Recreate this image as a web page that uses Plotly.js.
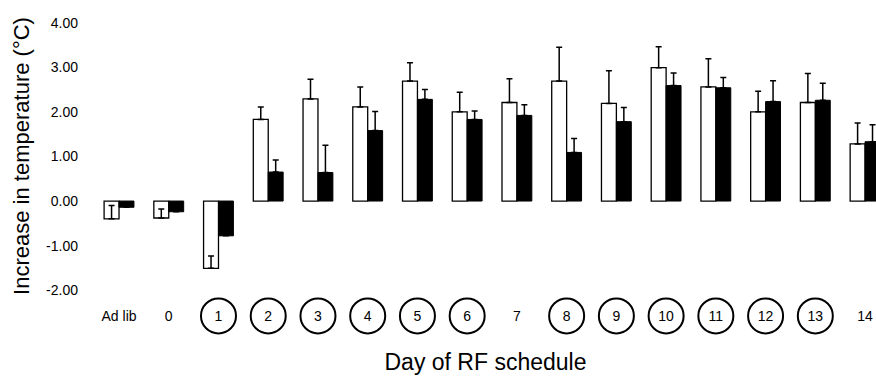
<!DOCTYPE html>
<html>
<head>
<meta charset="utf-8">
<script src="https://cdn.plot.ly/plotly-3.0.1.min.js"></script>
<style>html,body{margin:0;padding:0;background:#fff;}#chart{width:876px;height:382px;}</style>
</head>
<body>
<div id="chart"></div>
<script>
var categories = ["Ad lib","0","1","2","3","4","5","6","7","8","9","10","11","12","13","14"];
var circled = ["1","2","3","4","5","6","8","9","10","11","12","13"];
var whiteValues = [-0.40,-0.38,-1.51,1.83,2.29,2.11,2.69,2.00,2.21,2.69,2.19,2.99,2.56,2.00,2.21,1.28];
var whiteErr    = [0.30,0.20,0.28,0.28,0.44,0.45,0.41,0.44,0.53,0.76,0.73,0.47,0.63,0.46,0.65,0.47];
var blackValues = [-0.14,-0.24,-0.78,0.65,0.64,1.58,2.28,1.83,1.92,1.09,1.78,2.59,2.54,2.23,2.26,1.33];
var blackErr    = [0.00,0.00,0.00,0.27,0.61,0.43,0.22,0.19,0.24,0.31,0.32,0.28,0.23,0.47,0.38,0.38];
var yTickVals = [-2,-1,0,1,2,3,4];
var yTickText = ["-2.00","-1.00","0.00","1.00","2.00","3.00","4.00"];

var zeros = categories.map(function(){return 0;});
var FONT = "Liberation Sans, Arial, sans-serif";

var traces = [
  {type:"bar", x:categories, y:whiteValues, name:"white",
   marker:{color:"#ffffff", line:{color:"#000000", width:1.3}},
   error_y:{type:"data", symmetric:false, array:whiteErr, arrayminus:zeros, color:"#000000", thickness:1.5, width:3}},
  {type:"bar", x:categories, y:blackValues, name:"black",
   marker:{color:"#000000", line:{color:"#000000", width:1}},
   error_y:{type:"data", symmetric:false, array:blackErr, arrayminus:zeros, color:"#000000", thickness:1.5, width:3}}
];

var shapes = circled.map(function(c){
  return {type:"circle", xref:"x", yref:"paper", xsizemode:"pixel", ysizemode:"pixel",
          xanchor:categories.indexOf(c), yanchor:-0.088, x0:-17.5, x1:17.5, y0:-17.5, y1:17.5,
          line:{color:"#000000", width:2}, fillcolor:"rgba(0,0,0,0)"};
});

var layout = {
  width:876, height:382,
  margin:{l:95, r:0, t:20, b:90},
  paper_bgcolor:"#ffffff", plot_bgcolor:"#ffffff",
  showlegend:false,
  barmode:"group", bargap:0.40, bargroupgap:0,
  font:{family:FONT, color:"#000000"},
  xaxis:{type:"category", range:[-0.483, 15.22], showgrid:false, zeroline:false, showline:false,
         ticks:"", tickfont:{size:14, family:FONT}, ticklabelstandoff:14,
         title:{text:"Day of RF schedule", font:{size:23, family:FONT}, standoff:30}},
  yaxis:{range:[-2.04, 4.06], showgrid:false, zeroline:false, showline:false,
         ticks:"", tickvals:yTickVals, ticktext:yTickText, tickfont:{size:14, family:FONT},
         ticklabelstandoff:16,
         title:{text:"Increase in temperature (°C)", font:{size:22, family:FONT}, standoff:10}},
  shapes:shapes
};

Plotly.newPlot("chart", traces, layout, {displayModeBar:false, staticPlot:true});
</script>
</body>
</html>
